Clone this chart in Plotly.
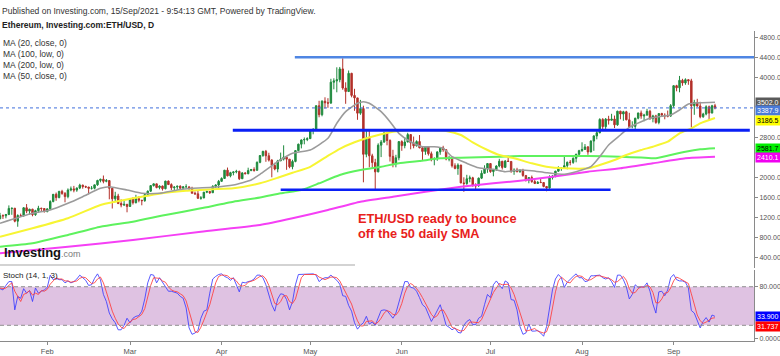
import plotly.graph_objects as go
import pandas as pd

# ---------------- data ----------------
start_date = "2021-01-16"

opens = [
    1171, 1233, 1230, 1257, 1377, 1382, 1122, 1236, 1231, 1391, 1324, 1362, 1252, 1332, 1382, 1376,
    1314, 1369, 1515, 1660, 1594, 1718, 1677, 1614, 1746, 1768, 1744, 1784, 1843, 1814, 1805, 1780, 1781, 1849, 1937, 1960, 1919, 1935, 1781, 1570, 1626, 1475, 1446, 1459,
    1417, 1565, 1492, 1575, 1541, 1533, 1654, 1723, 1834, 1869, 1795, 1825, 1772, 1924, 1854, 1792, 1806, 1823, 1782, 1809, 1809, 1781, 1681, 1669, 1581, 1587, 1702, 1717, 1691, 1819, 1846,
    1919, 1977, 2143, 2029, 2093, 2107, 2118, 1971, 2088, 2072, 2135, 2157, 2139, 2299, 2435, 2519, 2431, 2344, 2237, 2166, 2330, 2364, 2403, 2363, 2211, 2317, 2534, 2662, 2747, 2756,
    2773, 2945, 2950, 3431, 3253, 3522, 3490, 3484, 3902, 3928, 3952, 4168, 3785, 3715, 4079, 3638, 3588, 3282, 3374, 2460, 2784, 2430, 2295, 2109, 2643, 2706, 2888, 2736, 2419, 2279, 2390,
    2714, 2633, 2706, 2855, 2688, 2630, 2715, 2590, 2517, 2608, 2472, 2353, 2372, 2508, 2590, 2552, 2366, 2372, 2231, 2178, 2245, 1888, 1875, 1971, 1990, 1833, 1830, 1983, 2080, 2167,
    2275, 2114, 2150, 2226, 2322, 2198, 2324, 2317, 2116, 2146, 2112, 2140, 2037, 1940, 1995, 1915, 1876, 1899, 1895, 1817, 1788, 1994, 2027, 2123, 2189, 2191, 2233, 2300, 2298, 2380, 2461,
    2533, 2557, 2608, 2507, 2725, 2827, 2891, 3158, 3013, 3163, 3141, 3165, 3049, 3322, 3266, 3311, 3150, 3013, 3018, 3182, 3287, 3226, 3243, 3320, 3172, 3228, 3097, 3275, 3244, 3227, 3225,
    3433, 3832, 3790, 3940, 3887, 3952, 3929, 3431, 3497, 3427, 3211, 3266, 3410, 3285, 3430,
]
highs = [
    1289, 1259, 1260, 1438, 1389, 1385, 1260, 1274, 1403, 1465, 1370, 1370, 1350, 1430, 1390, 1382,
    1374, 1540, 1665, 1695, 1730, 1750, 1705, 1778, 1816, 1828, 1798, 1871, 1852, 1833, 1809, 1825, 1851, 1950, 1972, 2036, 1966, 1939, 1784, 1710, 1670, 1559, 1525, 1468,
    1570, 1600, 1650, 1620, 1548, 1667, 1736, 1838, 1876, 1870, 1840, 1835, 1930, 1936, 1880, 1819, 1826, 1839, 1826, 1861, 1812, 1811, 1716, 1730, 1624, 1707, 1732, 1719, 1842, 1858, 1947,
    1999, 2144, 2195, 2110, 2117, 2150, 2133, 2100, 2100, 2192, 2165, 2200, 2318, 2445, 2530, 2547, 2491, 2362, 2290, 2349, 2494, 2640, 2420, 2365, 2352, 2540, 2673, 2757, 2797, 2800,
    2951, 2985, 3440, 3530, 3541, 3600, 3582, 3970, 3980, 4200, 4207, 4380, 3900, 4136, 4090, 3770, 3590, 3548, 3432, 2950, 2930, 2471, 2370, 2680, 2746, 2910, 2890, 2760, 2550, 2450, 2720,
    2740, 2800, 2890, 2856, 2815, 2740, 2845, 2620, 2625, 2620, 2515, 2400, 2520, 2600, 2630, 2560, 2430, 2380, 2280, 2280, 2250, 2000, 2050, 2035, 2010, 1880, 1995, 2140, 2240, 2285,
    2285, 2160, 2240, 2370, 2325, 2345, 2410, 2320, 2180, 2190, 2160, 2170, 2040, 2000, 2035, 1960, 1925, 1970, 1905, 1825, 2040, 2043, 2130, 2220, 2200, 2440, 2315, 2345, 2400, 2470, 2550,
    2700, 2665, 2625, 2740, 2840, 2945, 3180, 3183, 3185, 3230, 3270, 3235, 3330, 3330, 3330, 3330, 3290, 3120, 3190, 3290, 3335, 3270, 3370, 3350, 3250, 3250, 3280, 3290, 3280, 3335, 3465,
    3840, 3850, 4027, 3970, 3980, 3960, 3970, 3550, 3570, 3510, 3290, 3440, 3435, 3450, 3470,
]
lows = [
    1162, 1167, 1180, 1243, 1250, 1100, 1011, 1208, 1213, 1282, 1253, 1220, 1229, 1289, 1325, 1295,
    1300, 1350, 1500, 1530, 1580, 1650, 1500, 1580, 1720, 1700, 1710, 1763, 1772, 1785, 1659, 1755, 1760, 1830, 1899, 1880, 1900, 1560, 1376, 1511, 1465, 1400, 1425, 1300,
    1410, 1455, 1478, 1500, 1440, 1510, 1640, 1705, 1815, 1780, 1760, 1735, 1759, 1850, 1745, 1730, 1745, 1770, 1768, 1800, 1748, 1680, 1649, 1568, 1552, 1582, 1683, 1667, 1691, 1786, 1771,
    1915, 1970, 2020, 2000, 2040, 2080, 1945, 1970, 2060, 2060, 2122, 2112, 2138, 2281, 2410, 2310, 2316, 2000, 2140, 2100, 2323, 2336, 2150, 2181, 2160, 2300, 2520, 2578, 2660, 2723,
    2772, 2860, 2950, 3200, 3220, 3375, 3390, 3470, 3760, 3700, 3900, 3750, 3470, 3710, 3600, 3330, 3150, 3250, 1900, 2400, 2200, 2180, 1740, 2100, 2404, 2690, 2640, 2315, 2200, 2200, 2340,
    2530, 2580, 2700, 2560, 2580, 2615, 2580, 2325, 2450, 2435, 2320, 2240, 2330, 2450, 2510, 2340, 2320, 2195, 2160, 2050, 1880, 1710, 1850, 1900, 1815, 1730, 1810, 1965, 2080, 2090,
    2090, 2020, 2130, 2200, 2155, 2198, 2310, 2090, 2050, 2100, 2090, 2010, 1915, 1880, 1890, 1865, 1870, 1885, 1800, 1720, 1770, 1955, 2000, 2110, 2130, 2180, 2160, 2240, 2270, 2300, 2420,
    2510, 2550, 2450, 2500, 2530, 2760, 2880, 2960, 2950, 3055, 3140, 2985, 3030, 3160, 3130, 3140, 3000, 2980, 2960, 3160, 3170, 3120, 3240, 3150, 3100, 3070, 3060, 3220, 3160, 3200, 3210,
    3390, 3720, 3700, 3830, 3850, 3850, 3000, 3250, 3410, 3180, 3190, 3240, 3130, 3280, 3360,
]
closes = [
    1233, 1230, 1257, 1377, 1382, 1122, 1236, 1231, 1391, 1324, 1362, 1252, 1332, 1382, 1376, 1314,
    1369, 1515, 1660, 1594, 1718, 1677, 1614, 1746, 1768, 1744, 1784, 1843, 1814, 1805, 1780, 1781, 1849, 1937, 1960, 1919, 1935, 1781, 1570, 1626, 1475, 1446, 1459, 1417,
    1565, 1492, 1575, 1541, 1533, 1654, 1723, 1834, 1869, 1795, 1825, 1772, 1924, 1854, 1792, 1806, 1823, 1782, 1809, 1809, 1781, 1681, 1669, 1581, 1587, 1702, 1717, 1691, 1819, 1846, 1919,
    1977, 2143, 2029, 2093, 2107, 2118, 1971, 2088, 2072, 2135, 2157, 2139, 2299, 2435, 2519, 2431, 2344, 2237, 2166, 2330, 2364, 2403, 2363, 2211, 2317, 2534, 2662, 2747, 2756, 2773,
    2945, 2950, 3431, 3253, 3522, 3490, 3484, 3902, 3928, 3952, 4168, 3785, 3715, 4079, 3638, 3588, 3282, 3374, 2460, 2784, 2430, 2295, 2109, 2643, 2706, 2888, 2736, 2419, 2279, 2390, 2714,
    2633, 2706, 2855, 2688, 2630, 2715, 2590, 2517, 2608, 2472, 2353, 2372, 2508, 2590, 2552, 2366, 2372, 2231, 2178, 2245, 1888, 1875, 1971, 1990, 1833, 1830, 1983, 2080, 2167, 2275,
    2114, 2150, 2226, 2322, 2198, 2324, 2317, 2116, 2146, 2112, 2140, 2037, 1940, 1995, 1915, 1876, 1899, 1895, 1817, 1788, 1994, 2027, 2123, 2189, 2191, 2233, 2300, 2298, 2380, 2461, 2533,
    2557, 2608, 2507, 2725, 2827, 2891, 3158, 3013, 3163, 3141, 3165, 3049, 3322, 3266, 3311, 3150, 3013, 3018, 3182, 3287, 3226, 3243, 3320, 3172, 3228, 3097, 3275, 3244, 3227, 3225, 3433,
    3832, 3790, 3940, 3887, 3952, 3929, 3431, 3497, 3427, 3211, 3266, 3410, 3285, 3430, 3387.9,
]

stoch_k = [
    77, 75, 82, 88, 88, 44, 65, 62, 77, 70, 74, 57, 78, 70, 73, 75, 79, 98, 91, 93,
    91, 91, 86, 89, 86, 88, 92, 98, 94, 90, 82, 83, 93, 100, 91, 68, 57, 39, 30, 24,
    13, 13, 20, 31, 24, 31, 34, 35, 42, 61, 86, 99, 98, 86, 94, 87, 80, 73, 73, 72,
    70, 65, 62, 47, 16, 6, 8, 12, 31, 42, 44, 70, 92, 96, 99, 100, 96, 94, 90, 94,
    83, 72, 87, 86, 88, 89, 92, 98, 98, 94, 83, 69, 52, 42, 61, 69, 68, 60, 44, 57,
    83, 99, 99, 100, 99, 99, 100, 98, 88, 92, 94, 94, 98, 94, 90, 84, 66, 65, 51, 42,
    24, 14, 20, 24, 34, 22, 25, 20, 31, 43, 44, 43, 37, 31, 39, 55, 68, 88, 88, 79,
    78, 73, 63, 52, 48, 37, 26, 34, 44, 52, 37, 20, 17, 13, 16, 9, 8, 20, 26, 29,
    21, 21, 31, 34, 52, 68, 63, 83, 89, 83, 77, 89, 86, 60, 59, 44, 18, 6, 8, 22,
    11, 11, 12, 8, 3, 18, 49, 75, 92, 99, 94, 79, 87, 92, 96, 100, 94, 94, 88, 89,
    97, 97, 97, 98, 94, 92, 94, 88, 79, 98, 98, 91, 80, 61, 68, 83, 79, 79, 80, 86,
    73, 53, 39, 72, 73, 66, 75, 94, 99, 91, 89, 89, 87, 78, 43, 39, 26, 16, 26, 32,
    25, 36, 33.9,
]
stoch_d = [
    78, 77, 78, 82, 86, 73, 66, 57, 68, 70, 74, 67, 70, 68, 74, 73, 76, 84, 89, 94,
    92, 92, 89, 89, 87, 88, 89, 93, 95, 94, 89, 85, 86, 92, 95, 86, 72, 55, 42, 31,
    22, 17, 15, 21, 25, 29, 30, 33, 37, 46, 63, 82, 94, 94, 93, 89, 87, 80, 75, 73,
    72, 69, 66, 58, 42, 23, 10, 9, 17, 28, 39, 52, 69, 86, 96, 98, 98, 97, 93, 93,
    89, 83, 81, 82, 87, 88, 90, 93, 96, 97, 92, 82, 68, 54, 52, 57, 66, 66, 57, 54,
    61, 80, 94, 99, 99, 99, 99, 99, 95, 93, 91, 93, 95, 95, 94, 89, 80, 72, 61, 53,
    39, 27, 19, 19, 26, 27, 27, 22, 25, 31, 39, 43, 41, 37, 36, 42, 54, 70, 81, 85,
    82, 77, 71, 63, 54, 46, 37, 32, 35, 43, 44, 36, 25, 17, 15, 13, 11, 12, 18, 25,
    25, 24, 24, 29, 39, 51, 61, 71, 78, 85, 83, 83, 84, 78, 68, 54, 40, 23, 11, 12,
    14, 15, 11, 10, 8, 10, 23, 47, 72, 89, 95, 91, 87, 86, 92, 96, 97, 96, 92, 90,
    91, 94, 97, 97, 96, 95, 93, 91, 87, 88, 92, 96, 90, 77, 70, 71, 77, 80, 79, 82,
    80, 71, 55, 55, 61, 70, 71, 78, 89, 95, 93, 90, 88, 85, 69, 53, 36, 27, 23, 25,
    28, 31, 31.737,
]

# Moving averages at sample dates
ma20_dates = ["2021-01-16", "2021-01-27", "2021-02-02", "2021-02-08", "2021-02-13", "2021-02-19", "2021-02-22",
              "2021-02-28", "2021-03-05", "2021-03-11", "2021-03-17", "2021-03-22", "2021-03-29", "2021-04-05",
              "2021-04-11", "2021-04-14", "2021-04-20", "2021-04-25", "2021-05-01", "2021-05-07", "2021-05-10",
              "2021-05-13", "2021-05-17", "2021-05-19", "2021-05-21", "2021-05-25", "2021-05-28", "2021-05-31",
              "2021-06-04", "2021-06-08", "2021-06-12", "2021-06-15", "2021-06-18", "2021-06-23", "2021-06-27",
              "2021-07-02", "2021-07-06", "2021-07-11", "2021-07-15", "2021-07-20", "2021-07-26", "2021-07-30",
              "2021-08-04", "2021-08-07", "2021-08-10", "2021-08-14", "2021-08-17", "2021-08-21", "2021-08-24",
              "2021-08-27", "2021-08-31", "2021-09-03", "2021-09-06", "2021-09-10", "2021-09-15"]
ma20_vals = [1080, 1280, 1346, 1480, 1612, 1780, 1812, 1746, 1680, 1680, 1746, 1780, 1800, 1846,
             1946, 2060, 2312, 2480, 2546, 2780, 3080, 3312, 3480, 3512, 3480, 3312, 3112, 2880,
             2712, 2612, 2612, 2580, 2412, 2280, 2190, 2160, 2112, 2146, 2132, 2092, 2060, 2112,
             2212, 2412, 2646, 2846, 3000, 3112, 3180, 3212, 3246, 3346, 3466, 3492, 3502.0]

ma50_dates = ["2021-01-16", "2021-01-27", "2021-02-08", "2021-02-19", "2021-02-24", "2021-03-02", "2021-03-13",
              "2021-03-20", "2021-03-29", "2021-04-05", "2021-04-14", "2021-04-20", "2021-04-25", "2021-05-01",
              "2021-05-07", "2021-05-11", "2021-05-16", "2021-05-20", "2021-05-25", "2021-05-29", "2021-06-04",
              "2021-06-09", "2021-06-16", "2021-06-21", "2021-06-25", "2021-06-30", "2021-07-04", "2021-07-09",
              "2021-07-15", "2021-07-20", "2021-07-26", "2021-08-03", "2021-08-07", "2021-08-12", "2021-08-16",
              "2021-08-21", "2021-08-25", "2021-08-30", "2021-09-03", "2021-09-07", "2021-09-10", "2021-09-15"]
ma50_vals = [812, 980, 1180, 1446, 1512, 1580, 1692, 1732, 1760, 1780, 1880, 1990, 2090, 2210,
             2430, 2570, 2700, 2780, 2860, 2910, 2946, 2946, 2926, 2846, 2700, 2546, 2446, 2380,
             2280, 2212, 2180, 2180, 2246, 2346, 2446, 2546, 2612, 2712, 2880, 2980, 3080, 3186.5]

ma100_dates = ["2021-01-16", "2021-01-27", "2021-02-08", "2021-02-19", "2021-03-02", "2021-03-13", "2021-03-25",
               "2021-04-05", "2021-04-14", "2021-04-21", "2021-04-28", "2021-05-04", "2021-05-11", "2021-05-18",
               "2021-05-25", "2021-05-31", "2021-06-07", "2021-06-14", "2021-06-21", "2021-06-27", "2021-07-04",
               "2021-07-11", "2021-07-22", "2021-08-03", "2021-08-14", "2021-08-21", "2021-08-26", "2021-08-31",
               "2021-09-05", "2021-09-10", "2021-09-15"]
ma100_vals = [612, 680, 846, 1012, 1112, 1246, 1380, 1512, 1595, 1680, 1746, 1880, 2046, 2146,
              2212, 2280, 2326, 2380, 2392, 2400, 2412, 2426, 2426, 2426, 2410, 2395, 2380, 2446,
              2512, 2560, 2581.7]

ma200_dates = ["2021-01-16", "2021-02-08", "2021-03-02", "2021-03-25", "2021-04-14", "2021-04-25", "2021-05-07",
               "2021-05-18", "2021-05-29", "2021-06-09", "2021-06-21", "2021-07-02", "2021-07-11", "2021-07-22",
               "2021-08-03", "2021-08-14", "2021-08-25", "2021-09-05", "2021-09-15"]
ma200_vals = [480, 612, 746, 912, 1046, 1180, 1346, 1512, 1612, 1712, 1812, 1880, 1932, 2012,
              2112, 2180, 2280, 2380, 2410.1]

# Horizontal support / resistance levels drawn on the chart
level_vals = [4400, 2940, 1750]
level_start = ["2021-04-25 19:00", "2021-04-04 19:00", "2021-04-21 00:00"]
level_end = ["2021-09-28 05:00", "2021-09-26 19:00", "2021-08-10 16:00"]

month_ticks = ["2021-02-01", "2021-03-01", "2021-04-01", "2021-05-01",
               "2021-06-01", "2021-07-01", "2021-08-01", "2021-09-01"]
month_labels = ["Feb", "Mar", "Apr", "May", "Jun", "Jul", "Aug", "Sep"]

# tick labels (those hidden behind the value badges are left out)
price_ticks = [400, 800, 1200, 1600, 2000, 2800, 4000, 4400, 4800]
price_tick_text = ["400.00", "800.00", "1200.0", "1600.0", "2000.0", "2800.0",
                   "4000.0", "4400.0", "4800.0"]
stoch_ticks = [0, 80]
stoch_tick_text = ["0.0000", "80.000"]
stoch_band = [20, 80]

legend_names = ["MA (20, close, 0)", "MA (100, low, 0)", "MA (200, low, 0)", "MA (50, close, 0)"]

# last-value badges on the right axis
price_badge_vals = [ma20_vals[-1], closes[-1], ma50_vals[-1], ma100_vals[-1], ma200_vals[-1]]
price_badge_text = ["3502.0", "3387.9", "3186.5", "2581.7", "2410.1"]
stoch_badge_vals = [stoch_k[-1], stoch_d[-1]]
stoch_badge_text = ["33.900", "31.737"]

# ---------------- styling ----------------
FONT = "Liberation Sans, Arial, sans-serif"
x_range = ["2021-01-16 00:00", "2021-09-28 05:00"]
PLOT_TOP, PLOT_BOTTOM = 31, 341          # pixel rows of plotting area
H = PLOT_BOTTOM - PLOT_TOP


def py(pix):
    """pixel row -> paper y"""
    return (PLOT_BOTTOM - pix) / H


dates = pd.date_range(start_date, periods=len(closes), freq="D")

fig = go.Figure()

fig.add_trace(go.Candlestick(
    x=dates, open=opens, high=highs, low=lows, close=closes,
    increasing=dict(line=dict(color="#1f8a3e", width=1), fillcolor="#1f8a3e"),
    decreasing=dict(line=dict(color="#b3312a", width=1), fillcolor="#b3312a"),
    whiskerwidth=0, xaxis="x", yaxis="y", hoverinfo="skip", showlegend=False,
))

ma_styles = [
    (ma200_dates, ma200_vals, "#f53ff5", 2),
    (ma100_dates, ma100_vals, "#5ef25e", 2),
    (ma50_dates, ma50_vals, "#f7f533", 2),
    (ma20_dates, ma20_vals, "#9b9b9b", 1.6),
]
for xs, ys, col, w in ma_styles:
    fig.add_trace(go.Scatter(
        x=xs, y=ys, mode="lines", xaxis="x", yaxis="y", hoverinfo="skip",
        line=dict(color=col, width=w, shape="spline", smoothing=0.5),
        showlegend=False,
    ))

fig.add_trace(go.Scatter(
    x=dates, y=stoch_k, mode="lines", xaxis="x2", yaxis="y2", hoverinfo="skip",
    line=dict(color="rgba(60,60,255,0.85)", width=1), showlegend=False,
))
fig.add_trace(go.Scatter(
    x=dates, y=stoch_d, mode="lines", xaxis="x2", yaxis="y2", hoverinfo="skip",
    line=dict(color="rgba(255,60,60,0.85)", width=1), showlegend=False,
))

shapes = []
level_styles = [("#4f86e3", 2.5), ("#0a1ff5", 3), ("#0a1ff5", 2.5)]
for v, s, e, (col, w) in zip(level_vals, level_start, level_end, level_styles):
    shapes.append(dict(type="line", xref="x", yref="y", x0=s, x1=e, y0=v, y1=v,
                       line=dict(color=col, width=w)))
# current price dotted line
shapes.append(dict(type="line", xref="paper", yref="y", x0=0, x1=1, y0=closes[-1], y1=closes[-1],
                   line=dict(color="#3f6fdc", width=1, dash="dot")))
# stochastic band and its bounds
shapes.append(dict(type="rect", xref="paper", yref="y2", x0=0, x1=1, y0=stoch_band[0], y1=stoch_band[1],
                   fillcolor="#dfc2e2", line=dict(width=0), layer="below"))
for b in stoch_band:
    shapes.append(dict(type="line", xref="paper", yref="y2", x0=0, x1=1, y0=b, y1=b,
                       line=dict(color="#8f8f8f", width=1, dash="4px,3px")))
# pane separator (partial)
shapes.append(dict(type="line", xref="paper", yref="paper", x0=0, x1=355 / 754, y0=py(265), y1=py(265),
                   line=dict(color="#c4c4c4", width=1.5)))

annotations = []
annotations.append(dict(text="Published on Investing.com, 15/Sep/2021 - 9:54:13 GMT, Powered by TradingView.",
                        xref="paper", yref="paper", x=0, y=py(11), xanchor="left", yanchor="middle",
                        showarrow=False, xshift=0, font=dict(size=8.5, color="#333333", family=FONT)))
annotations.append(dict(text="<b>Ethereum, Investing.com:ETH/USD, D</b>",
                        xref="paper", yref="paper", x=0, y=py(25), xanchor="left", yanchor="middle",
                        showarrow=False, font=dict(size=8.5, color="#222222", family=FONT)))
for i, name in enumerate(legend_names):
    annotations.append(dict(text=name, xref="paper", yref="paper", x=0, y=py(43.5 + i * 10.8),
                            xanchor="left", yanchor="middle", showarrow=False, xshift=1,
                            font=dict(size=8.5, color="#333333", family=FONT)))
annotations.append(dict(text="<b>ETH/USD ready to bounce</b>", xref="paper", yref="paper",
                        x=356 / 754, y=py(218), xanchor="left", yanchor="middle", showarrow=False,
                        font=dict(size=12.8, color="#e8211b", family=FONT)))
annotations.append(dict(text="<b>off the 50 daily SMA</b>", xref="paper", yref="paper",
                        x=356 / 754, y=py(233), xanchor="left", yanchor="middle", showarrow=False,
                        font=dict(size=12.8, color="#e8211b", family=FONT)))
annotations.append(dict(text="<b>Investing</b><span style='font-size:9px;color:#7a7a7a'>.com</span>",
                        xref="paper", yref="paper", x=2 / 754, y=py(252), xanchor="left", yanchor="middle",
                        showarrow=False, font=dict(size=13, color="#111111", family=FONT)))
annotations.append(dict(text="Stoch (14, 1, 3)", xref="paper", yref="paper", x=0, y=py(275),
                        xanchor="left", yanchor="middle", showarrow=False, xshift=1,
                        font=dict(size=8, color="#222222", family=FONT)))

badge_styles = [("#5a5a5a", "white", 0), ("#4a7ad8", "white", -3), ("#ffff00", "black", -2.5),
                ("#00f000", "black", 0), ("#f000f0", "white", -1)]
for v, t, (bg, fg, sh) in zip(price_badge_vals, price_badge_text, badge_styles):
    annotations.append(dict(text=t, xref="paper", yref="y", x=1, y=v, xanchor="left", yanchor="middle",
                            xshift=1, yshift=sh, showarrow=False, bgcolor=bg, borderpad=1,
                            font=dict(size=7, color=fg, family=FONT)))
stoch_badge_styles = [("#0000ff", "white", 0), ("#ff0000", "white", -8.5)]
for v, t, (bg, fg, sh) in zip(stoch_badge_vals, stoch_badge_text, stoch_badge_styles):
    annotations.append(dict(text=t, xref="paper", yref="y2", x=1, y=v, xanchor="left", yanchor="middle",
                            xshift=1, yshift=sh, showarrow=False, bgcolor=bg, borderpad=1,
                            font=dict(size=7, color=fg, family=FONT)))

axis_common = dict(showgrid=False, zeroline=False)
fig.update_layout(
    width=780, height=356,
    margin=dict(l=0, r=26, t=PLOT_TOP, b=356 - PLOT_BOTTOM),
    paper_bgcolor="white", plot_bgcolor="white",
    showlegend=False,
    font=dict(family=FONT, size=8, color="#555555"),
    xaxis=dict(domain=[0, 1], anchor="y", type="date", range=x_range, showticklabels=False,
               ticks="", rangeslider=dict(visible=False), showline=False, **axis_common),
    xaxis2=dict(domain=[0, 1], anchor="y2", type="date", range=x_range, matches="x",
                tickvals=month_ticks, ticktext=month_labels, ticks="outside", ticklen=3,
                tickcolor="#8a8a8a", showline=True, linecolor="#8a8a8a", linewidth=1,
                tickfont=dict(size=7.5, color="#555555", family=FONT), automargin=False, **axis_common),
    yaxis=dict(domain=[py(268), 1], anchor="x", side="right", range=[186, 4926],
               tickvals=price_ticks, ticktext=price_tick_text, ticks="outside", ticklen=3,
               tickcolor="#8a8a8a", showline=True, linecolor="#8a8a8a", linewidth=1,
               tickfont=dict(size=7, color="#555555", family=FONT), automargin=False, **axis_common),
    yaxis2=dict(domain=[0, py(270)], anchor="x2", side="right", range=[-4.4, 106],
                tickvals=stoch_ticks, ticktext=stoch_tick_text, ticks="outside", ticklen=3,
                tickcolor="#8a8a8a", showline=True, linecolor="#8a8a8a", linewidth=1,
                tickfont=dict(size=7, color="#555555", family=FONT), automargin=False, **axis_common),
    shapes=shapes,
    annotations=annotations,
)

fig.write_html(
    "out.html",
    config={"displayModeBar": False, "staticPlot": True},
    post_script="document.body.style.margin='0';document.body.style.padding='0';"
                "document.body.style.overflow='hidden';",
)
